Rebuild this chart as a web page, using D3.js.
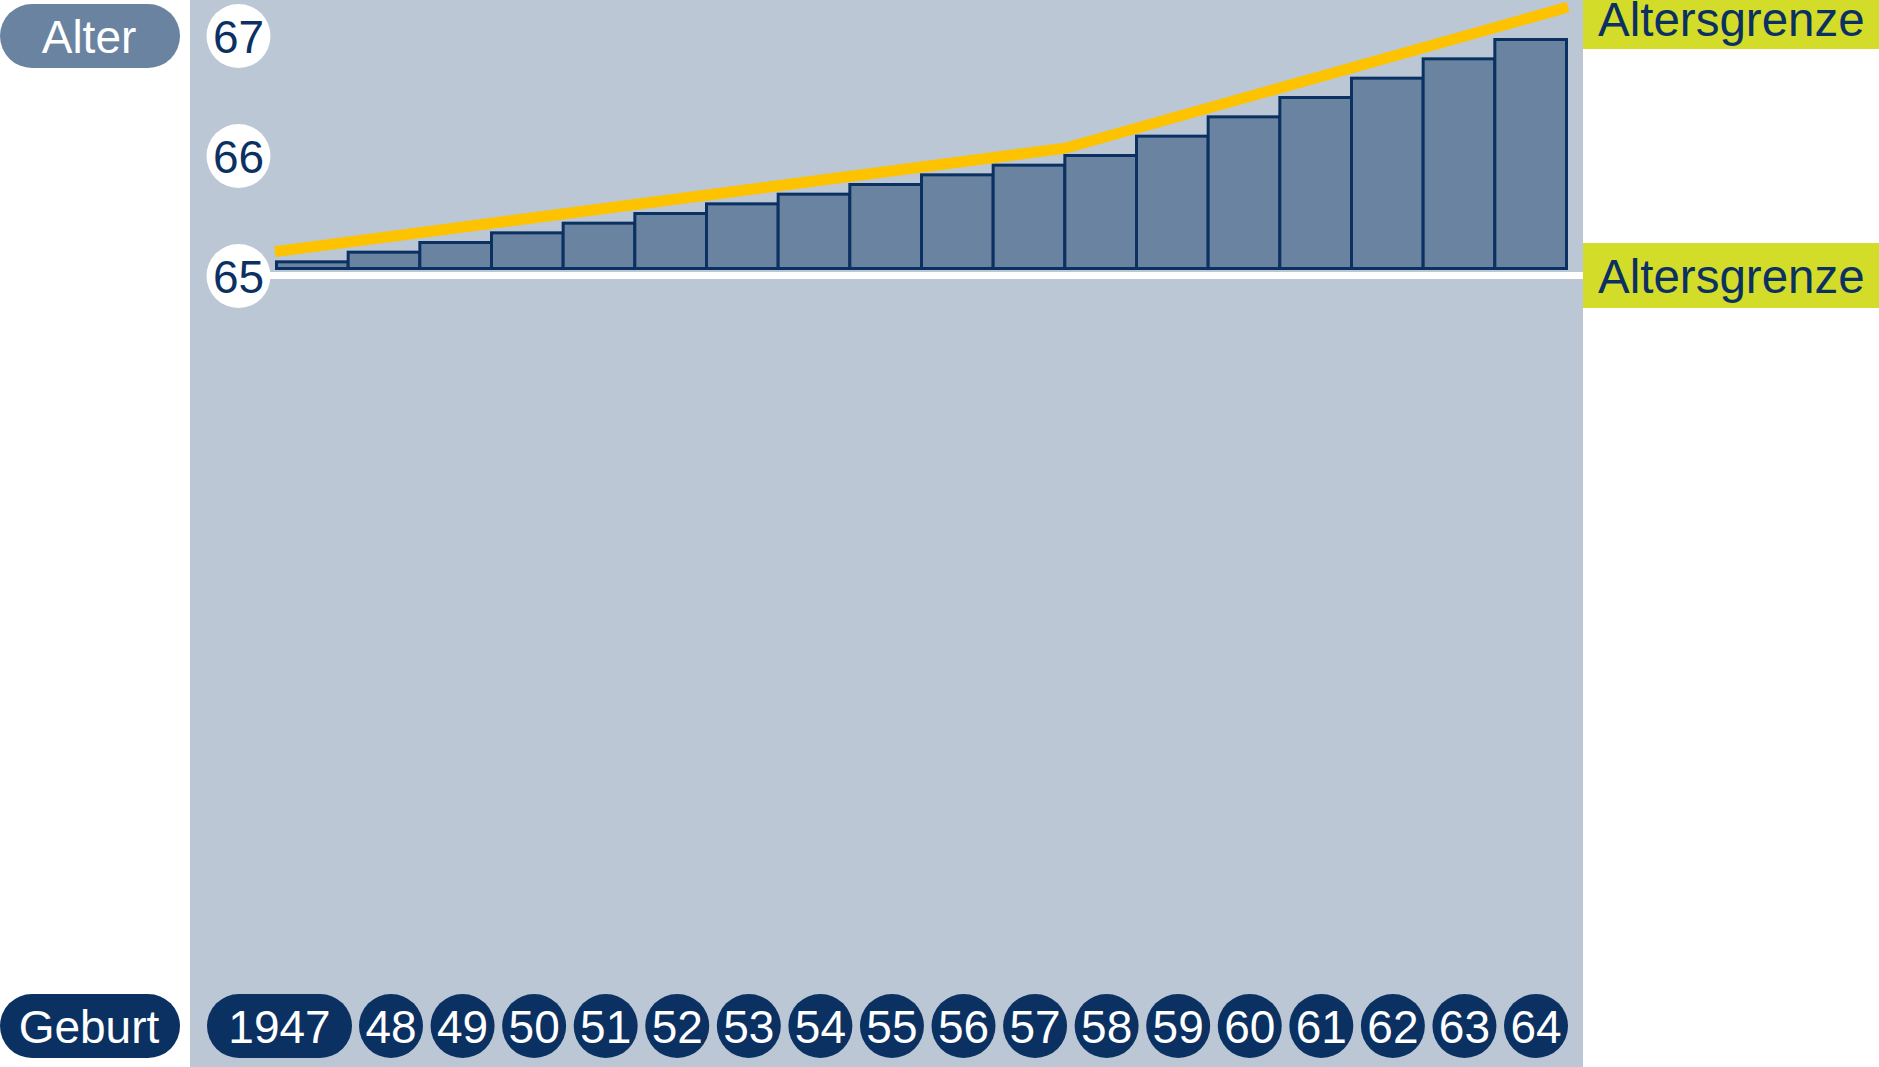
<!DOCTYPE html>
<html>
<head>
<meta charset="utf-8">
<script src="https://cdn.jsdelivr.net/npm/d3@7/dist/d3.min.js"></script>
<style>
html,body{margin:0;padding:0;background:#fff;}
svg{display:block;}
text{font-family:"Liberation Sans",Arial,Helvetica,sans-serif;}
</style>
</head>
<body>
<svg id="chart" width="1879" height="1067"></svg>
<script>
// ---- data ----
const years = [1947,1948,1949,1950,1951,1952,1953,1954,1955,1956,1957,1958,1959,1960,1961,1962,1963,1964];
const yearLabels = ["1947","48","49","50","51","52","53","54","55","56","57","58","59","60","61","62","63","64"];
// retirement age: months above 65
const extraMonths = [1,2,3,4,5,6,7,8,9,10,11,12,14,16,18,20,22,24];
const ageTicks = [65,66,67];
// age-limit line (year boundary, months above 65)
const limitYears = [1947,1958,1965];
const limitMonths = [1.9,12.6,27.2];
const axisTitle = "Alter";
const birthTitle = "Geburt";
const limitLabel = "Altersgrenze";

// ---- colours ----
const C = {
  plotBg:"#bbc7d5", bar:"#6a83a1", navy:"#0b3162", yellow:"#fdc300",
  lime:"#d4dc2a", alter:"#6a83a1", white:"#ffffff"
};

const svg = d3.select("#chart");

// scales
const x = d3.scaleBand().domain(years).range([276.5,1566.5]).padding(0);
const xl = d3.scaleLinear().domain([1947,1965]).range([275,1568]);
const y = d3.scaleLinear().domain([0,24]).range([270,38]);
const yTick = d3.scaleLinear().domain([65,67]).range([276,36]);

// plot background
svg.append("rect").attr("x",190).attr("y",0).attr("width",1393).attr("height",1067).attr("fill",C.plotBg);

// baseline (white)
svg.append("line").attr("x1",238).attr("x2",1583).attr("y1",275.5).attr("y2",275.5)
  .attr("stroke",C.white).attr("stroke-width",7);

// bars
svg.append("g").selectAll("rect").data(years).join("rect")
  .attr("x",d=>x(d))
  .attr("width",x.bandwidth())
  .attr("y",(d,i)=>y(extraMonths[i])+1.5)
  .attr("height",(d,i)=>y(0)-y(extraMonths[i])-3)
  .attr("fill",C.bar).attr("stroke",C.navy).attr("stroke-width",3);

// limit line
const lineGen = d3.line().x(d=>xl(d[0])).y(d=>y(d[1]));
svg.append("path").datum(limitYears.map((yr,i)=>[yr,limitMonths[i]]))
  .attr("d",lineGen).attr("fill","none").attr("stroke",C.yellow)
  .attr("stroke-width",11).attr("stroke-linejoin","miter").attr("stroke-linecap","butt");

// y tick circles
const tg = svg.append("g").selectAll("g").data(ageTicks).join("g")
  .attr("transform",d=>`translate(238.5,${yTick(d)})`);
tg.append("circle").attr("r",32).attr("fill",C.white);
tg.append("text").attr("text-anchor","middle").attr("y",16.5).attr("font-size",46)
  .attr("fill",C.navy).text(d=>d);

// Alter pill
svg.append("rect").attr("x",0).attr("y",4).attr("width",180).attr("height",64).attr("rx",32).attr("fill",C.alter);
svg.append("text").attr("x",89).attr("y",52.5).attr("text-anchor","middle").attr("font-size",46)
  .attr("fill",C.white).text(axisTitle);

// Geburt pill
svg.append("rect").attr("x",0).attr("y",994).attr("width",180).attr("height",64).attr("rx",32).attr("fill",C.navy);
svg.append("text").attr("x",89).attr("y",1042.5).attr("text-anchor","middle").attr("font-size",46)
  .attr("fill",C.white).text(birthTitle);

// year labels
const lx = d3.scalePoint().domain(years.slice(1)).range([391,1536]);
const lg = svg.append("g").selectAll("g").data(years).join("g")
  .attr("transform",(d,i)=>`translate(${i===0?279.5:lx(d)},1026)`);
lg.each(function(d,i){
  const g = d3.select(this);
  if(i===0){
    g.append("rect").attr("x",-72.5).attr("y",-32).attr("width",145).attr("height",64).attr("rx",32).attr("fill",C.navy);
  } else {
    g.append("circle").attr("r",32).attr("fill",C.navy);
  }
  g.append("text").attr("text-anchor","middle").attr("y",16.5).attr("font-size",46)
    .attr("fill",C.white).text(yearLabels[i]);
});

// right labels
[{y0:0,h:49,base:35.5},{y0:243,h:65,base:293}].forEach(b=>{
  svg.append("rect").attr("x",1583).attr("y",b.y0).attr("width",296).attr("height",b.h).attr("fill",C.lime);
  svg.append("text").attr("x",1598).attr("y",b.base).attr("font-size",47.5).attr("fill",C.navy).text(limitLabel);
});
</script>
</body>
</html>
